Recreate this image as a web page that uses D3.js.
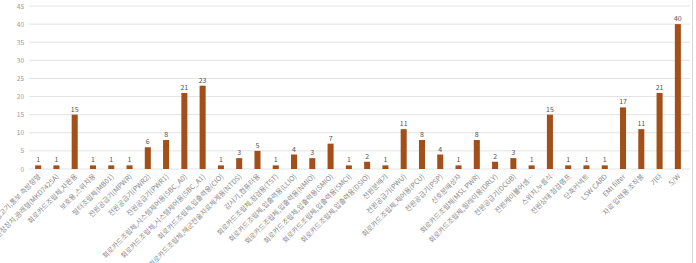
<!DOCTYPE html>
<html><head><meta charset="utf-8">
<script src="https://cdn.jsdelivr.net/npm/d3@7"></script>
<style>body{margin:0;background:#fff}svg{display:block}</style>
</head><body><svg id="c" width="696" height="263"></svg>
<script>
const categories = [
 "경고기,통보 측방향형","안정장치,광래형(MKD7425A)","회로카드조립체,자판용","보호용,스위치용","필터조립체(MB01)",
 "전원공급기(MPWR)","전원공급기(PWR2)","전원공급기(PWR1)","회로카드조립체,시스템제어용(SBC_A0)","회로카드조립체,시스템제어용(SBC_A1)",
 "회로카드조립체,입출력용(CIO)","회로카드조립체,해군전술자료체계용(NTDS)","감시기,컴퓨터용","회로카드조립체,점검용(TST)","회로카드조립체,입출력용(LLIO)",
 "회로카드조립체,입출력용(NMIO)","회로카드조립체,입출력용(SMIO)","회로카드조립체,입출력용(SMCI)","회로카드조립체,입출력용(DSIO)","전원분배기",
 "전원공급기(PWU)","회로카드조립체,제어용(PCU)","전원공급기(PSP)","신호분배상자","회로카드조립체(MSL PWR)",
 "회로카드조립체,릴레이용(DRLY)","전원공급기(DCGB)","전원케이블어셈…","스위치,누름식","전원상태 점검램프",
 "단축커넥트","LSW CARD","EMI filter","자료 입력용 조작봉","기타","S/W"
];
const values = [1,1,15,1,1,1,6,8,21,23,1,3,5,1,4,3,7,1,2,1,11,8,4,1,8,2,3,1,15,1,1,1,17,11,21,40];
const yTicks = [0,5,10,15,20,25,30,35,40,45];

const svg = d3.select("#c");
const x = d3.scaleBand().domain(categories).range([29, 687]).paddingInner(0.67).paddingOuter(0.335);
const y = d3.scaleLinear().domain([0,45]).range([169, 6]);
const font = "'Noto Sans CJK KR','Noto Sans',sans-serif";

// gridlines
svg.append("g").selectAll("line").data(yTicks).join("line")
  .attr("x1", 29).attr("x2", 690).attr("y1", d=>y(d)).attr("y2", d=>y(d))
  .attr("stroke", "#e3e3e3").attr("stroke-width", 1);
// right border
svg.append("line").attr("x1",692.5).attr("x2",692.5).attr("y1",0).attr("y2",263).attr("stroke","#d8d8d8");

// y axis labels
const yAxis = d3.axisLeft(y).tickValues(yTicks).tickSize(0).tickPadding(0);
const ga = svg.append("g").attr("transform","translate(24,0)").call(yAxis);
ga.select(".domain").remove();
ga.selectAll("text").attr("font-family", font).attr("font-size", 6.5).attr("fill", "#9a9a9a");

// bars
svg.append("g").selectAll("rect").data(values).join("rect")
  .attr("x", (d,i)=>x(categories[i])).attr("width", x.bandwidth())
  .attr("y", d=>y(d)).attr("height", d=>y(0)-y(d))
  .attr("fill", "#A24F19");

// value labels
svg.append("g").selectAll("text").data(values).join("text")
  .attr("x", (d,i)=>x(categories[i]) + x.bandwidth()/2).attr("y", d=>y(d)-3)
  .attr("text-anchor","middle").attr("font-family", font).attr("font-size", 7).attr("fill","#555")
  .text(d=>d);

// category labels
svg.append("g").selectAll("text").data(categories).join("text")
  .attr("transform", d=>`translate(${x(d)+x.bandwidth()/2+3},177) rotate(-45)`)
  .attr("text-anchor","end").attr("font-family", font).attr("font-size", 7).attr("fill","#8a8a8a")
  .text(d=>d);
</script></body></html>
